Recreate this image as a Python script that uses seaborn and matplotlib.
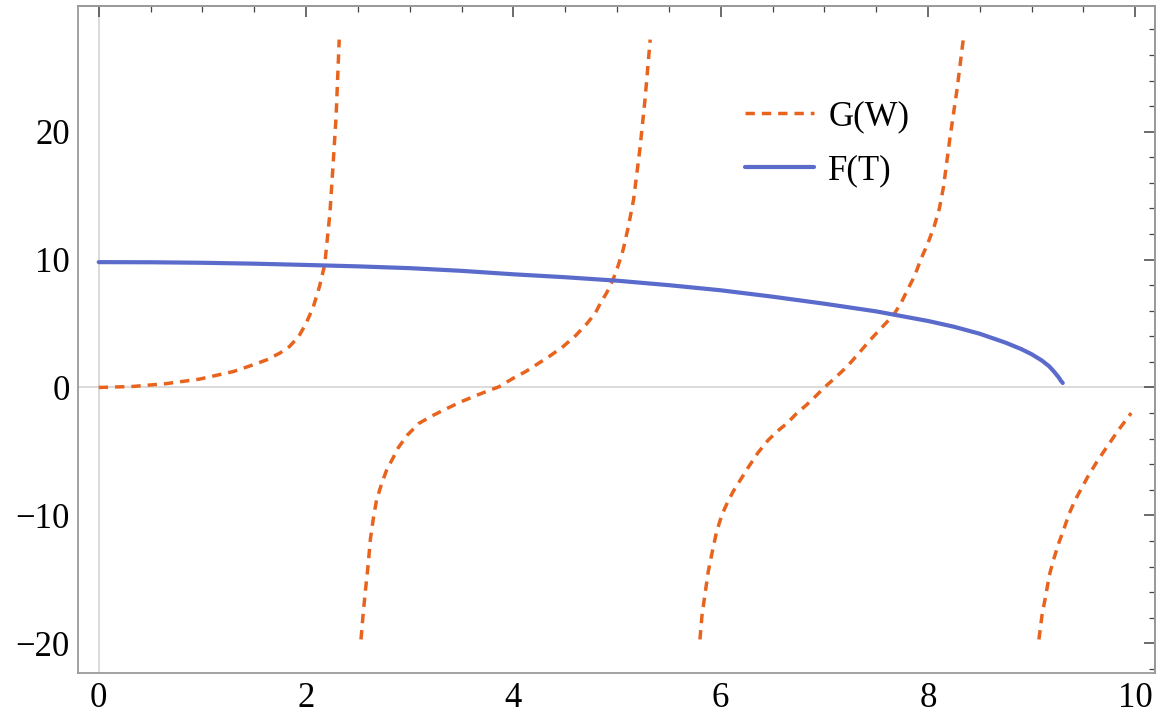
import matplotlib
matplotlib.use("Agg")
import matplotlib.pyplot as plt
from matplotlib.lines import Line2D
from matplotlib.ticker import MultipleLocator
import seaborn as sns
import pandas as pd

# ---- data ----
g_seg1_x = [0.0, 0.33, 0.65, 0.97, 1.30, 1.50, 1.62, 1.75, 1.84, 1.93, 2.00, 2.07, 2.13, 2.18,
            2.23, 2.26, 2.29, 2.32]
g_seg1_y = [0.0, 0.08, 0.30, 0.65, 1.25, 1.80, 2.16, 2.70, 3.2, 4.0, 5.0, 6.3, 7.9, 9.6,
            13.6, 17.3, 21.2, 27.2]
g_seg2_x = [2.53, 2.55, 2.57, 2.60, 2.62, 2.65, 2.68, 2.73, 2.78, 2.84, 2.89, 2.98, 3.09, 3.22,
            3.37, 3.50, 3.65, 3.76, 3.86, 4.00, 4.12, 4.22, 4.35, 4.48, 4.60, 4.71, 4.79, 4.84,
            4.90, 4.96, 5.01, 5.06, 5.11, 5.16, 5.22, 5.27, 5.32]
g_seg2_y = [-19.7, -17.8, -16.1, -13.8, -11.9, -10.2, -8.8, -7.5, -6.4, -5.5, -4.7, -3.7, -2.8,
            -2.2, -1.6, -1.1, -0.6, -0.25, 0.05, 0.73, 1.25, 1.77, 2.45, 3.2, 4.05, 5.0, 5.8, 6.6,
            7.4, 8.4, 9.5, 10.8, 12.6, 14.7, 18.6, 22.5, 27.2]
g_seg3_x = [5.80, 5.82, 5.85, 5.88, 5.92, 5.96, 6.01, 6.07, 6.13, 6.20, 6.27, 6.36, 6.46, 6.55,
            6.64, 6.73, 6.83, 6.92, 7.00, 7.11, 7.22, 7.33, 7.44, 7.55, 7.67, 7.74, 7.80, 7.87,
            7.93, 8.00, 8.06, 8.11, 8.15, 8.21, 8.28, 8.34]
g_seg3_y = [-19.7, -17.8, -16.1, -14.4, -12.8, -11.3, -10.0, -8.9, -8.0, -7.1, -6.2, -5.1, -4.1,
            -3.4, -2.8, -2.05, -1.35, -0.65, 0.0, 0.8, 1.64, 2.65, 3.7, 4.65, 5.7, 6.6, 7.6, 8.7,
            10.0, 11.3, 12.6, 14.0, 15.7, 19.4, 23.3, 27.2]
g_seg4_x = [9.07, 9.10, 9.14, 9.17, 9.21, 9.26, 9.31, 9.36, 9.42, 9.48, 9.54, 9.63, 9.73, 9.84,
            9.96]
g_seg4_y = [-19.7, -17.8, -16.1, -14.7, -13.5, -12.2, -11.1, -9.9, -8.8, -7.9, -7.0, -5.8, -4.6,
            -3.3, -2.0]

f_x = [0.0, 0.5, 1.0, 1.5, 2.0, 2.5, 3.0, 3.5, 4.0, 4.5, 5.0, 5.5, 6.0, 6.5, 7.0, 7.5, 8.0,
       8.25, 8.5, 8.75, 8.9, 9.0, 9.1, 9.17, 9.22, 9.26, 9.28, 9.30]
f_y = [9.8, 9.79, 9.75, 9.68, 9.58, 9.47, 9.33, 9.12, 8.85, 8.62, 8.35, 8.0, 7.6, 7.1, 6.55,
       5.95, 5.2, 4.75, 4.2, 3.5, 3.0, 2.6, 2.1, 1.65, 1.2, 0.8, 0.55, 0.35]

legend_labels = ["G(W)", "F(T)"]
x_ticks = [0, 2, 4, 6, 8, 10]
y_ticks = [-20, -10, 0, 10, 20]

# ---- styling ----
sns.set_theme(style="white")
plt.rcParams["font.family"] = ["Liberation Serif", "DejaVu Serif"]

ORANGE = "#E8641E"
BLUE = "#5A6BCB"
FRAME = "#9a9a9a"
TICK = "#444444"
DASH = (0, (2.7, 2.0))

fig = plt.figure(figsize=(11.58, 7.15), dpi=100)
ax = fig.add_axes([78 / 1158, 1 - 672.7 / 715, (1155 - 78) / 1158, (672.7 - 5.7) / 715])

# axis lines at zero
ax.axhline(0, color="#d4d4d4", linewidth=1.2, zorder=0)
ax.axvline(0, color="#d4d4d4", linewidth=1.2, zorder=0)

segs = [(g_seg1_x, g_seg1_y), (g_seg2_x, g_seg2_y), (g_seg3_x, g_seg3_y), (g_seg4_x, g_seg4_y)]
for sx, sy in segs:
    df = pd.DataFrame({"x": sx, "y": sy})
    sns.lineplot(data=df, x="x", y="y", ax=ax, sort=False, color=ORANGE, linewidth=2.5,
                 linestyle=DASH, zorder=3)

df_f = pd.DataFrame({"x": f_x, "y": f_y})
sns.lineplot(data=df_f, x="x", y="y", ax=ax, sort=False, color=BLUE, linewidth=3.0, zorder=4)

ax.set_xlim(-0.2, 10.19)
ax.set_ylim(-22.3, 29.85)
ax.set_xlabel("")
ax.set_ylabel("")

ax.set_xticks(x_ticks)
ax.set_yticks(y_ticks)
ax.set_yticklabels([("\u2212" + str(abs(v))) if v < 0 else str(v) for v in y_ticks])
ax.xaxis.set_minor_locator(MultipleLocator(0.5))
ax.yaxis.set_minor_locator(MultipleLocator(2))

for sp in ax.spines.values():
    sp.set_color(FRAME)
    sp.set_linewidth(1.3)

ax.tick_params(axis="both", which="major", direction="in", length=4.3, width=1.1,
               color=TICK, labelsize=25, labelcolor="black", pad=6)
ax.tick_params(axis="both", which="minor", direction="in", length=2.5, width=0.9, color=TICK)
ax.tick_params(axis="x", which="major", pad=7)

# top & right ticks (longer, no labels)
secx = ax.secondary_xaxis("top")
secx.set_xticks(x_ticks)
secx.xaxis.set_minor_locator(MultipleLocator(0.5))
secx.tick_params(which="major", direction="in", length=8, width=1.1, color=TICK, labeltop=False)
secx.tick_params(which="minor", direction="in", length=4.6, width=0.9, color=TICK)
secx.spines["top"].set_color(FRAME)
secx.spines["top"].set_linewidth(1.3)

secy = ax.secondary_yaxis("right")
secy.set_yticks(y_ticks)
secy.yaxis.set_minor_locator(MultipleLocator(2))
secy.tick_params(which="major", direction="in", length=8, width=1.1, color=TICK, labelright=False)
secy.tick_params(which="minor", direction="in", length=4.6, width=0.9, color=TICK)
secy.spines["right"].set_color(FRAME)
secy.spines["right"].set_linewidth(1.3)

handles = [Line2D([], [], color=ORANGE, linewidth=2.5, linestyle=DASH),
           Line2D([], [], color=BLUE, linewidth=3.0)]
leg = fig.legend(handles, legend_labels, loc="upper left",
                 bbox_to_anchor=(745 / 1158, 1 - 100 / 715), frameon=False, fontsize=25,
                 handlelength=2.0, handletextpad=0.4, labelspacing=0.6,
                 borderpad=0, borderaxespad=0)
for t in leg.get_texts():
    t.set_color("black")

fig.savefig("out.png", dpi=100)
